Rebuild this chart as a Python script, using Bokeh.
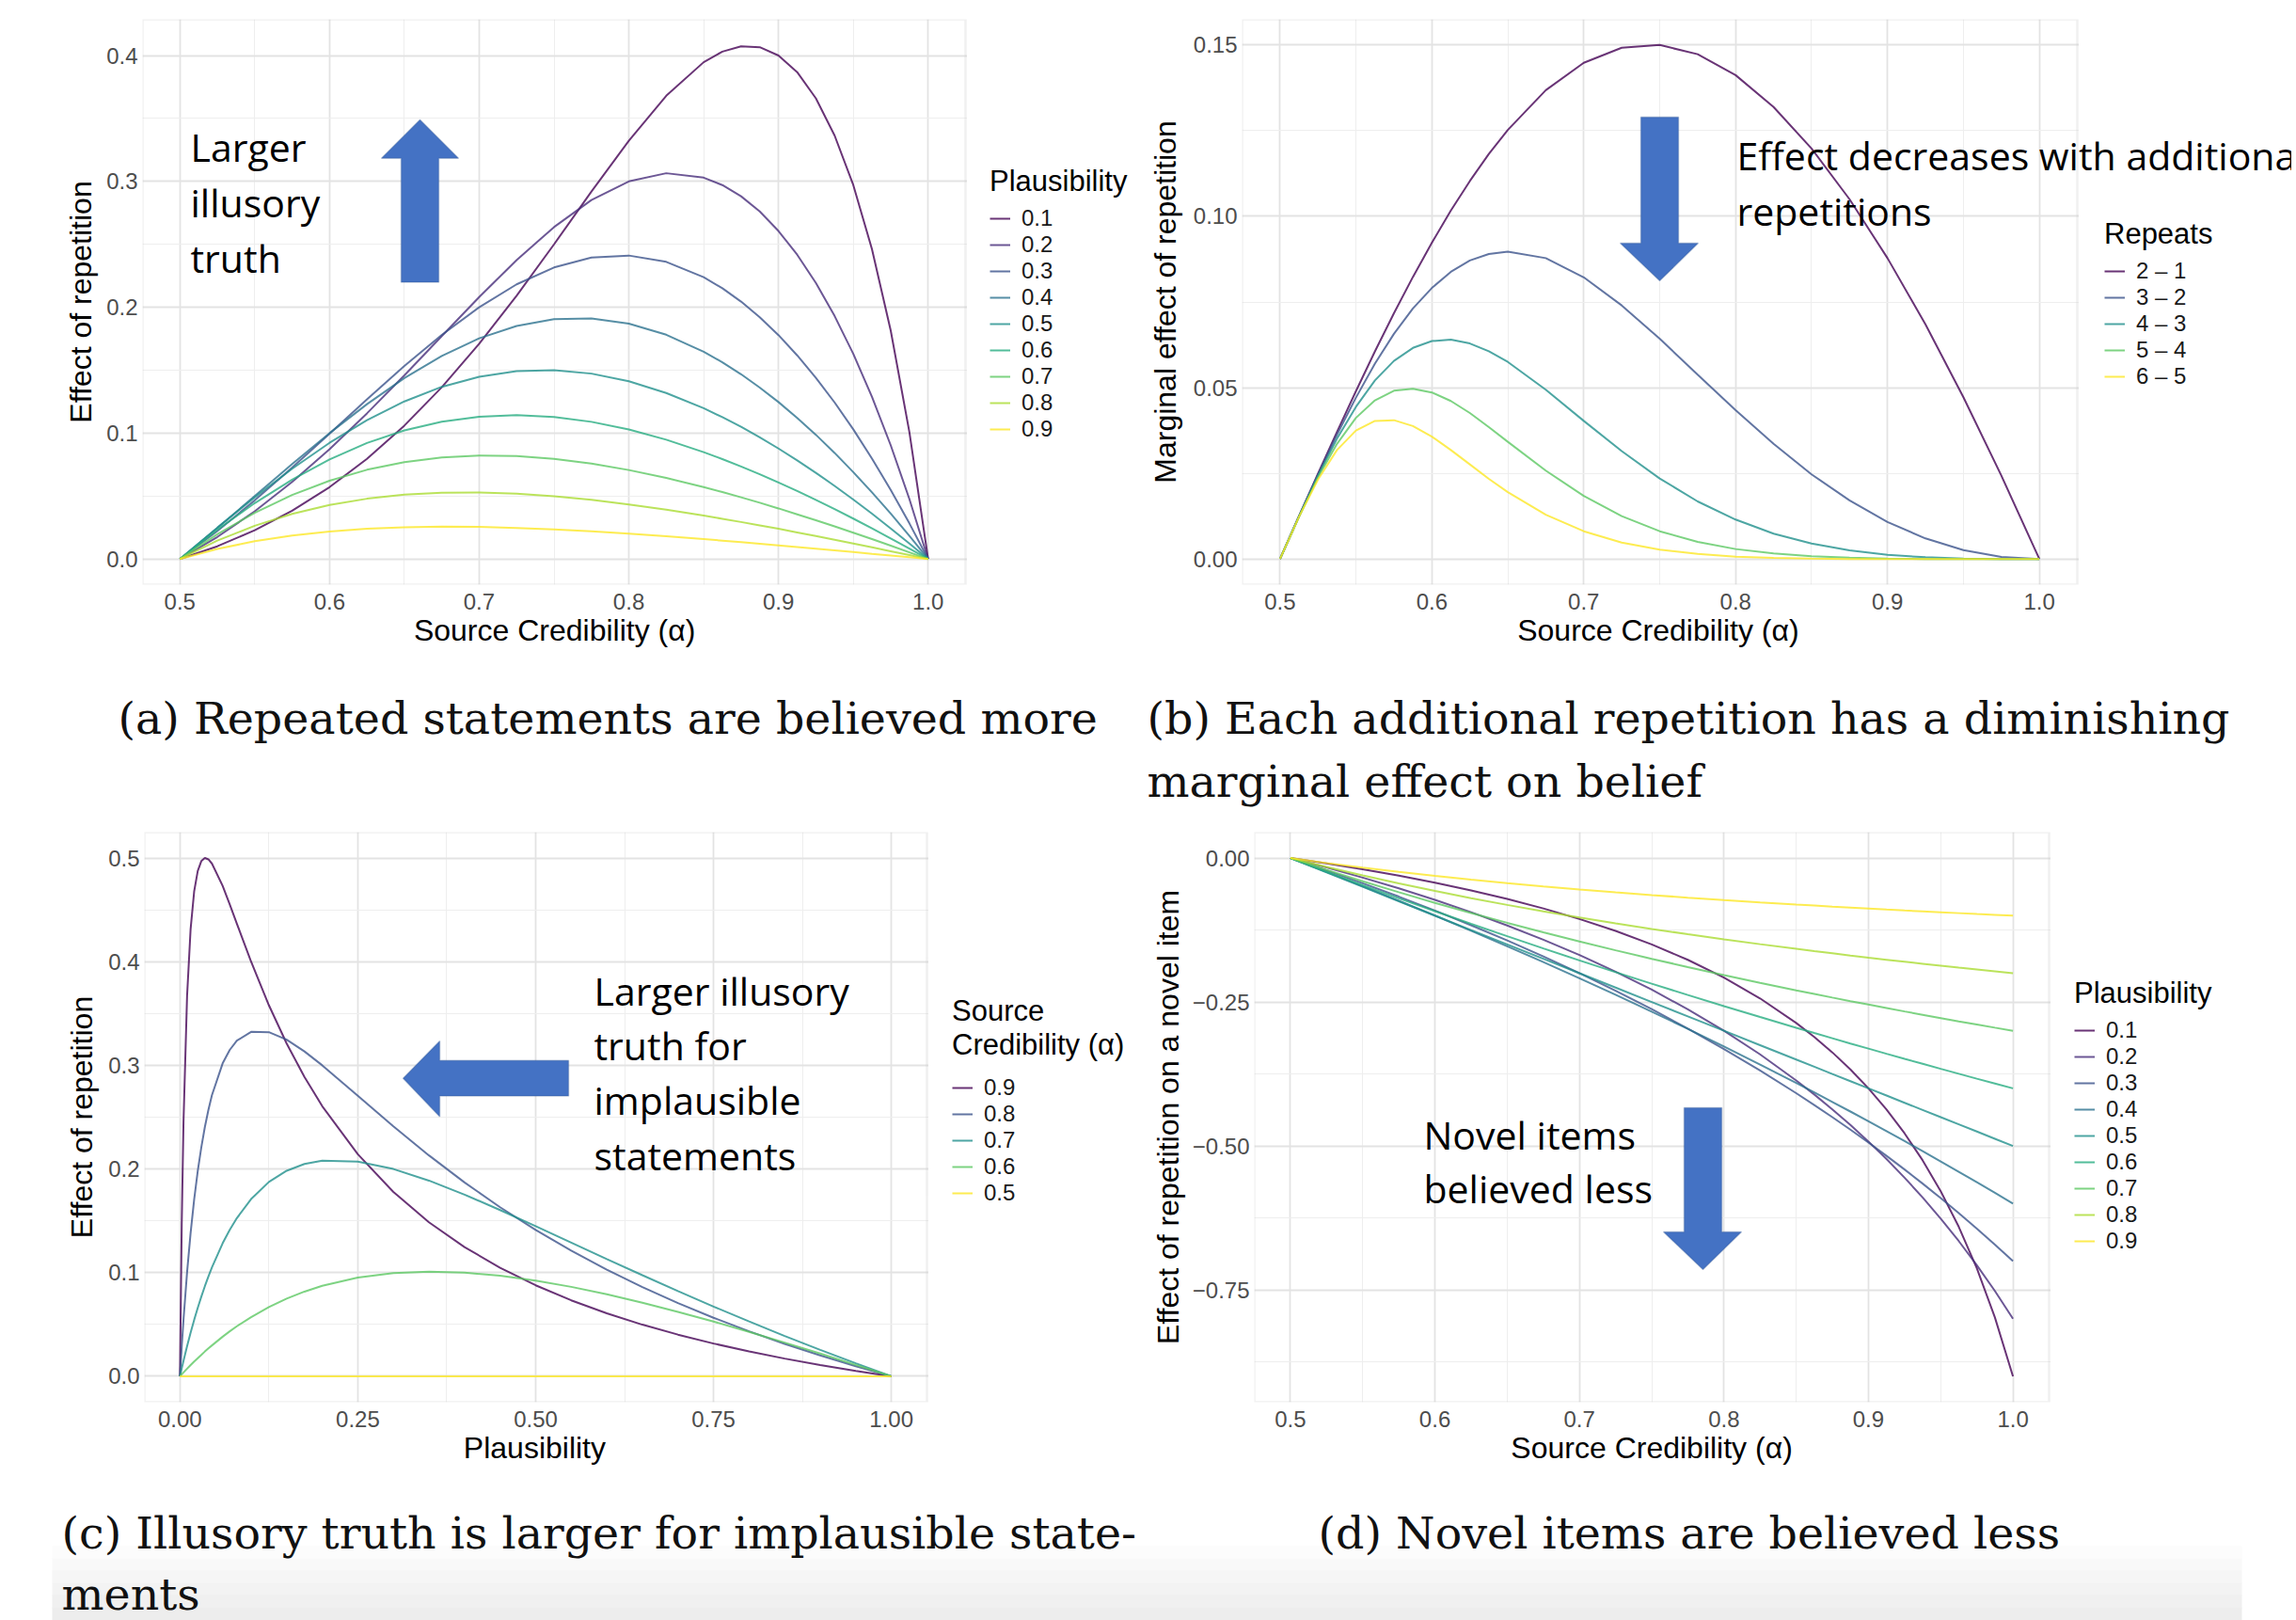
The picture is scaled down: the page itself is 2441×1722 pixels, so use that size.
from bokeh.plotting import figure
from bokeh.models import (Range1d, FixedTicker, Legend, LegendItem, Label,
                          PolyAnnotation, BoxAnnotation, PrintfTickFormatter,
                          CustomJSTickFormatter)
from bokeh.layouts import column, row
from bokeh.embed import file_html
from bokeh.resources import INLINE

# ---------------- data ----------------
# (a) effect of repetition vs source credibility, one series per plausibility
alpha_a = [0.5, 0.525, 0.55, 0.575, 0.6, 0.625, 0.65, 0.675, 0.7, 0.725, 0.75, 0.775, 0.8, 0.825,
           0.85, 0.8625, 0.875, 0.8875, 0.9, 0.9125, 0.925, 0.9375, 0.95, 0.9625, 0.975, 0.9875, 1.0]
plaus_labels = ["0.1", "0.2", "0.3", "0.4", "0.5", "0.6", "0.7", "0.8", "0.9"]
eff_p01 = [0, 0.0101, 0.0228, 0.0383, 0.0571, 0.0796, 0.1060, 0.1365, 0.1710, 0.2092, 0.2500, 0.2919,
           0.3323, 0.3680, 0.3947, 0.4031, 0.4073, 0.4066, 0.4000, 0.3868, 0.3660, 0.3365, 0.2971,
           0.2461, 0.1816, 0.1008, 0.0]
eff_p02 = [0, 0.0175, 0.0379, 0.0612, 0.0873, 0.1157, 0.1459, 0.1771, 0.2081, 0.2375, 0.2637, 0.2852,
           0.3000, 0.3065, 0.3030, 0.2971, 0.2882, 0.2761, 0.2606, 0.2418, 0.2193, 0.1931, 0.1630,
           0.1288, 0.0904, 0.0476, 0.0]
eff_p03 = [0, 0.0222, 0.0466, 0.0726, 0.0996, 0.1268, 0.1533, 0.1780, 0.2000, 0.2182, 0.2316, 0.2395,
           0.2411, 0.2361, 0.2239, 0.2151, 0.2045, 0.1921, 0.1779, 0.1618, 0.1440, 0.1244, 0.1030,
           0.0798, 0.0549, 0.0283, 0.0]
eff_p04 = [0, 0.0246, 0.0500, 0.0754, 0.1000, 0.1230, 0.1437, 0.1613, 0.1753, 0.1851, 0.1905, 0.1911,
           0.1870, 0.1782, 0.1647, 0.1563, 0.1468, 0.1362, 0.1247, 0.1121, 0.0987, 0.0843, 0.0690,
           0.0529, 0.0361, 0.0184, 0.0]
eff_p05 = [0, 0.0249, 0.0490, 0.0717, 0.0923, 0.1103, 0.1252, 0.1368, 0.1448, 0.1492, 0.1500, 0.1473,
           0.1412, 0.1319, 0.1198, 0.1127, 0.1050, 0.0967, 0.0878, 0.0784, 0.0685, 0.0581, 0.0472,
           0.0360, 0.0243, 0.0123, 0.0]
eff_p06 = [0, 0.0232, 0.0444, 0.0631, 0.0791, 0.0922, 0.1022, 0.1091, 0.1131, 0.1143, 0.1129, 0.1090,
           0.1029, 0.0948, 0.0849, 0.0794, 0.0735, 0.0673, 0.0608, 0.0540, 0.0469, 0.0396, 0.0321,
           0.0243, 0.0164, 0.0083, 0.0]
eff_p07 = [0, 0.0197, 0.0367, 0.0509, 0.0622, 0.0709, 0.0770, 0.0807, 0.0822, 0.0818, 0.0795, 0.0758,
           0.0707, 0.0644, 0.0571, 0.0532, 0.0490, 0.0447, 0.0402, 0.0355, 0.0308, 0.0259, 0.0209,
           0.0158, 0.0106, 0.0053, 0.0]
eff_p08 = [0, 0.0146, 0.0264, 0.0358, 0.0429, 0.0479, 0.0511, 0.0527, 0.0529, 0.0519, 0.0499, 0.0470,
           0.0434, 0.0392, 0.0345, 0.0320, 0.0294, 0.0267, 0.0240, 0.0211, 0.0182, 0.0153, 0.0123,
           0.0093, 0.0062, 0.0031, 0.0]
eff_p09 = [0, 0.0080, 0.0141, 0.0187, 0.0219, 0.0240, 0.0252, 0.0257, 0.0255, 0.0247, 0.0235, 0.0220,
           0.0201, 0.0181, 0.0158, 0.0146, 0.0134, 0.0121, 0.0108, 0.0095, 0.0082, 0.0069, 0.0055,
           0.0041, 0.0028, 0.0014, 0.0]

# (b) marginal effect of each additional repetition
alpha_b = [0.5, 0.5125, 0.525, 0.5375, 0.55, 0.5625, 0.575, 0.5875, 0.6, 0.6125, 0.625, 0.6375,
           0.65, 0.675, 0.7, 0.725, 0.75, 0.775, 0.8, 0.825, 0.85, 0.875, 0.9, 0.925, 0.95, 0.975, 1.0]
repeat_labels = ["2 \u2013 1", "3 \u2013 2", "4 \u2013 3", "5 \u2013 4", "6 \u2013 5"]
marg_21 = [0, 0.0125, 0.0249, 0.0371, 0.0490, 0.0606, 0.0717, 0.0823, 0.0923, 0.1017, 0.1103, 0.1182,
           0.1252, 0.1368, 0.1448, 0.1492, 0.1500, 0.1473, 0.1412, 0.1319, 0.1198, 0.1050, 0.0878,
           0.0685, 0.0472, 0.0243, 0.0]
marg_32 = [0, 0.0125, 0.0246, 0.0363, 0.0471, 0.0570, 0.0657, 0.0731, 0.0791, 0.0838, 0.0871, 0.0890,
           0.0897, 0.0878, 0.0822, 0.0740, 0.0643, 0.0538, 0.0434, 0.0336, 0.0247, 0.0171, 0.0108,
           0.0060, 0.0026, 0.0006, 0.0]
marg_43 = [0, 0.0124, 0.0243, 0.0351, 0.0444, 0.0521, 0.0578, 0.0616, 0.0636, 0.0640, 0.0629, 0.0606,
           0.0575, 0.0494, 0.0403, 0.0315, 0.0235, 0.0168, 0.0115, 0.0074, 0.0045, 0.0025, 0.0012,
           0.0005, 0.0001, 0.0, 0.0]
marg_54 = [0, 0.0123, 0.0238, 0.0336, 0.0412, 0.0463, 0.0491, 0.0497, 0.0486, 0.0461, 0.0426, 0.0385,
           0.0342, 0.0258, 0.0184, 0.0125, 0.0081, 0.0050, 0.0029, 0.0016, 0.0008, 0.0004, 0.0001,
           0.0, 0.0, 0.0, 0.0]
marg_65 = [0, 0.0123, 0.0232, 0.0318, 0.0375, 0.0403, 0.0405, 0.0388, 0.0357, 0.0318, 0.0276, 0.0234,
           0.0195, 0.0129, 0.0081, 0.0048, 0.0027, 0.0015, 0.0007, 0.0003, 0.0001, 0.0, 0.0,
           0.0, 0.0, 0.0, 0.0]

# (c) effect of repetition vs plausibility, one series per source credibility
plaus_c = [0, 0.0025, 0.005, 0.01, 0.015, 0.02, 0.025, 0.03, 0.035, 0.04, 0.045, 0.06, 0.07, 0.08,
           0.1, 0.125, 0.15, 0.175, 0.2, 0.25, 0.3, 0.35, 0.4, 0.45, 0.5, 0.55, 0.6, 0.65, 0.7,
           0.75, 0.8, 0.85, 0.9, 0.95, 1.0]
cred_labels = ["0.9", "0.8", "0.7", "0.6", "0.5"]
eff_a09 = [0, 0.1467, 0.2460, 0.3667, 0.4317, 0.4679, 0.4875, 0.4970, 0.5000, 0.4987, 0.4946, 0.4731,
           0.4552, 0.4367, 0.4000, 0.3580, 0.3210, 0.2888, 0.2606, 0.2143, 0.1779, 0.1486, 0.1247,
           0.1047, 0.0878, 0.0733, 0.0608, 0.0498, 0.0402, 0.0316, 0.0240, 0.0171, 0.0108, 0.0052, 0.0]
eff_a08 = [0, 0.0286, 0.0547, 0.1003, 0.1385, 0.1707, 0.1979, 0.2209, 0.2405, 0.2571, 0.2713, 0.3019,
           0.3149, 0.3238, 0.3323, 0.3320, 0.3247, 0.3134, 0.3000, 0.2707, 0.2411, 0.2131, 0.1870,
           0.1631, 0.1412, 0.1212, 0.1029, 0.0861, 0.0707, 0.0565, 0.0434, 0.0313, 0.0201, 0.0097, 0.0]
eff_a07 = [0, 0.0076, 0.0150, 0.0291, 0.0422, 0.0545, 0.0660, 0.0768, 0.0869, 0.0963, 0.1051, 0.1283,
           0.1413, 0.1526, 0.1710, 0.1875, 0.1983, 0.2049, 0.2081, 0.2072, 0.2000, 0.1888, 0.1753,
           0.1604, 0.1448, 0.1290, 0.1131, 0.0975, 0.0822, 0.0673, 0.0529, 0.0389, 0.0255, 0.0125, 0.0]
eff_a06 = [0, 0.0019, 0.0037, 0.0073, 0.0108, 0.0142, 0.0175, 0.0207, 0.0239, 0.0269, 0.0298, 0.0382,
           0.0434, 0.0483, 0.0571, 0.0668, 0.0749, 0.0817, 0.0873, 0.0952, 0.0996, 0.1010, 0.1000,
           0.0970, 0.0923, 0.0863, 0.0791, 0.0710, 0.0622, 0.0528, 0.0429, 0.0325, 0.0219, 0.0110, 0.0]
eff_a05 = [0, 0, 0, 0, 0, 0, 0, 0, 0, 0, 0, 0, 0, 0, 0, 0, 0, 0, 0, 0, 0, 0, 0, 0, 0, 0, 0, 0, 0,
           0, 0, 0, 0, 0, 0]

# (d) effect of repetition on a novel item
alpha_d = [0.5, 0.525, 0.55, 0.575, 0.6, 0.625, 0.65, 0.675, 0.7, 0.725, 0.75, 0.775, 0.8, 0.825,
           0.85, 0.8625, 0.875, 0.8875, 0.9, 0.9125, 0.925, 0.9375, 0.95, 0.9625, 0.975, 0.9875, 1.0]
nov_p01 = [0, -0.0094, -0.0196, -0.0307, -0.0429, -0.0563, -0.0711, -0.0875, -0.1059, -0.1266, -0.1500,
           -0.1768, -0.2077, -0.2438, -0.2864, -0.3107, -0.3375, -0.3671, -0.4000, -0.4368, -0.4781,
           -0.5250, -0.5786, -0.6404, -0.7125, -0.7977, -0.9000]
nov_p02 = [0, -0.0165, -0.0340, -0.0527, -0.0727, -0.0941, -0.1171, -0.1418, -0.1684, -0.1973, -0.2286,
           -0.2627, -0.3000, -0.3410, -0.3862, -0.4106, -0.4364, -0.4636, -0.4923, -0.5228, -0.5551,
           -0.5895, -0.6261, -0.6652, -0.7070, -0.7518, -0.8000]
nov_p03 = [0, -0.0214, -0.0438, -0.0670, -0.0913, -0.1167, -0.1432, -0.1709, -0.2000, -0.2305, -0.2625,
           -0.2962, -0.3316, -0.3689, -0.4083, -0.4289, -0.4500, -0.4717, -0.4941, -0.5172, -0.5409,
           -0.5654, -0.5906, -0.6167, -0.6435, -0.6713, -0.7000]
nov_p04 = [0, -0.0242, -0.0490, -0.0742, -0.1000, -0.1263, -0.1532, -0.1806, -0.2087, -0.2374, -0.2667,
           -0.2966, -0.3273, -0.3586, -0.3907, -0.4070, -0.4235, -0.4402, -0.4571, -0.4743, -0.4916,
           -0.5091, -0.5268, -0.5448, -0.5630, -0.5814, -0.6000]
nov_p05 = [0, -0.025, -0.05, -0.075, -0.1, -0.125, -0.15, -0.175, -0.2, -0.225, -0.25,
           -0.275, -0.3, -0.325, -0.35, -0.3625, -0.375, -0.3875, -0.4, -0.4125, -0.425,
           -0.4375, -0.45, -0.4625, -0.475, -0.4875, -0.5]
nov_p06 = [0, -0.0238, -0.0471, -0.0699, -0.0923, -0.1143, -0.1358, -0.1570, -0.1778, -0.1982, -0.2182,
           -0.2378, -0.2571, -0.2761, -0.2947, -0.3039, -0.3130, -0.3221, -0.3310, -0.3399, -0.3487,
           -0.3574, -0.3661, -0.3747, -0.3832, -0.3916, -0.4000]
nov_p07 = [0, -0.0206, -0.0404, -0.0594, -0.0778, -0.0955, -0.1125, -0.1289, -0.1448, -0.1602, -0.1750,
           -0.1893, -0.2032, -0.2167, -0.2297, -0.2360, -0.2423, -0.2485, -0.2545, -0.2605, -0.2664,
           -0.2722, -0.2779, -0.2836, -0.2891, -0.2946, -0.3000]
nov_p08 = [0, -0.0155, -0.0302, -0.0440, -0.0571, -0.0696, -0.0814, -0.0926, -0.1032, -0.1134, -0.1231,
           -0.1323, -0.1412, -0.1496, -0.1577, -0.1617, -0.1655, -0.1693, -0.1730, -0.1766, -0.1801,
           -0.1836, -0.1870, -0.1904, -0.1936, -0.1968, -0.2000]
nov_p09 = [0, -0.0087, -0.0167, -0.0241, -0.0310, -0.0375, -0.0435, -0.0492, -0.0545, -0.0596, -0.0643,
           -0.0688, -0.0730, -0.0770, -0.0808, -0.0826, -0.0844, -0.0861, -0.0878, -0.0895, -0.0911,
           -0.0926, -0.0942, -0.0957, -0.0972, -0.0986, -0.1000]

# tick positions
ticks_cred = [0.5, 0.6, 0.7, 0.8, 0.9, 1.0]
minor_cred = [0.55, 0.65, 0.75, 0.85, 0.95]
ticks_a_y = [0.0, 0.1, 0.2, 0.3, 0.4]
minor_a_y = [0.05, 0.15, 0.25, 0.35]
ticks_b_y = [0.0, 0.05, 0.10, 0.15]
minor_b_y = [0.025, 0.075, 0.125]
ticks_c_x = [0.0, 0.25, 0.5, 0.75, 1.0]
minor_c_x = [0.125, 0.375, 0.625, 0.875]
ticks_c_y = [0.0, 0.1, 0.2, 0.3, 0.4, 0.5]
minor_c_y = [0.05, 0.15, 0.25, 0.35, 0.45]
ticks_d_y = [-0.75, -0.5, -0.25, 0.0]
minor_d_y = [-0.875, -0.625, -0.375, -0.125]

# ---------------- styling ----------------
SANS = "Liberation Sans"
ANN_FONT = "Open Sans"
CAP_FONT = "DejaVu Serif"
VIR9 = ["#440154", "#472D7B", "#3B528B", "#2C728E", "#21908C", "#27AD81", "#5DC863", "#AADC32", "#FDE725"]
VIR5 = ["#440154", "#3B528B", "#21908C", "#5DC863", "#FDE725"]
ARROW_FILL = "#4472C4"
ARROW_LINE = "#2F528F"
LW = 2.0
LA = 0.8
TITLE_H = 35
TITLE_SO = 7
ITEM_H = 28
AXIS_TITLE_PX = 32
NBSP_EM = 0.2778   # advance width of a no-break space in Liberation Sans

# page geometry of each panel (pixels, page origin top-left)
# X0/Y0/W/H: figure box; L/T/R/B: plotting panel; the frame runs on to the figure's right edge
GA = dict(X0=0, Y0=0, W=1214, H=700, L=151, T=19, R=1026, B=621, xr=(0.475, 1.025), yr=(-0.0204, 0.4288))
GB = dict(X0=1214, Y0=0, W=1222, H=700, L=1320, T=20, R=2208, B=621, xr=(0.475, 1.025), yr=(-0.0075, 0.1575))
GC = dict(X0=0, Y0=870, W=1214, H=700, L=153, T=883, R=985, B=1492, xr=(-0.05, 1.05), yr=(-0.025, 0.525))
GD = dict(X0=1214, Y0=870, W=1222, H=700, L=1333, T=884, R=2178, B=1490, xr=(0.475, 1.025), yr=(-0.945, 0.045))


def xscale(g):
    return (g["xr"][1] - g["xr"][0]) / (g["R"] - g["L"])


def dx(g, X):
    return g["xr"][0] + (X - g["L"]) * xscale(g)


def dy(g, Y):
    return g["yr"][1] - (Y - g["T"]) / (g["B"] - g["T"]) * (g["yr"][1] - g["yr"][0])


def make_panel(g):
    x_end = dx(g, g["X0"] + g["W"])
    p = figure(width=g["W"], height=g["H"], x_range=Range1d(g["xr"][0], x_end),
               y_range=Range1d(*g["yr"]),
               output_backend="svg", toolbar_location=None, title=None,
               min_border_left=g["L"] - g["X0"], min_border_right=0,
               min_border_top=g["T"] - g["Y0"], min_border_bottom=g["Y0"] + g["H"] - g["B"])
    p.background_fill_color = "white"
    p.border_fill_color = "white"
    p.outline_line_color = None
    return p


def dress_panel(p, g):
    x0, x1 = g["xr"]
    y0, y1 = g["yr"]
    x_end = dx(g, g["X0"] + g["W"])
    # blank out the legend area to the right of the panel
    p.add_layout(BoxAnnotation(left=x1 + 1.5 * xscale(g), right=x_end, bottom=y0, top=y1,
                               fill_color="white", fill_alpha=1.0, line_color=None, level="underlay"))
    # panel border
    p.add_layout(BoxAnnotation(left=x0, right=x1, bottom=y0, top=y1, fill_alpha=0.0,
                               line_color="#cccccc", line_width=2.5, level="underlay"))


def centred_title(g, text):
    # the frame runs past the panel, so pad the title on the right to centre it on the panel
    shift = (g["X0"] + g["W"] - g["R"]) / 2.0
    n = int(round(2 * shift / (NBSP_EM * AXIS_TITLE_PX)))
    return text + "\u00a0" * n


def style_axes(p, g, xt, xm, yt, ym, xfmt, yfmt, xlab, ylab, yso):
    for ax, t, m, fmt, lab, so, lso in ((p.xaxis[0], xt, xm, xfmt, centred_title(g, xlab), 1, 9),
                                        (p.yaxis[0], yt, ym, yfmt, ylab, yso, 5)):
        ax.ticker = FixedTicker(ticks=t, minor_ticks=m)
        ax.formatter = fmt
        ax.axis_label = lab
        ax.axis_label_text_font = SANS
        ax.axis_label_text_font_size = "%dpx" % AXIS_TITLE_PX
        ax.axis_label_text_font_style = "normal"
        ax.axis_label_text_color = "black"
        ax.axis_label_standoff = so
        ax.major_label_text_font = SANS
        ax.major_label_text_font_size = "24px"
        ax.major_label_text_color = "#4d4d4d"
        ax.major_label_standoff = lso
        ax.axis_line_color = None
        ax.major_tick_line_color = None
        ax.minor_tick_line_color = None
        ax.major_tick_out = 0
        ax.major_tick_in = 0
        ax.minor_tick_out = 0
        ax.minor_tick_in = 0
    for grid, t, m in ((p.xgrid[0], xt, xm), (p.ygrid[0], yt, ym)):
        grid.ticker = FixedTicker(ticks=t, minor_ticks=m)
        grid.grid_line_color = "#e3e3e3"
        grid.grid_line_width = 1.8
        grid.minor_grid_line_color = "#eeeeee"
        grid.minor_grid_line_width = 1.0


def add_legend(p, g, rends, labels, title, left, top, title_h=TITLE_H, title_so=TITLE_SO):
    n = len(labels)
    H = title_h + title_so + n * ITEM_H
    loc = (left - g["L"], g["B"] - top - H)
    leg = Legend(items=[LegendItem(label=l, renderers=[r]) for l, r in zip(labels, rends)],
                 location=loc, orientation="vertical",
                 label_text_font=SANS, label_text_font_size="24px", label_text_color="#1a1a1a",
                 glyph_width=22, glyph_height=ITEM_H, label_height=ITEM_H, label_standoff=12,
                 spacing=0, padding=0, margin=0, border_line_color=None, background_fill_alpha=0)
    leg.title = title
    leg.title_text_font = SANS
    leg.title_text_font_size = "31px"
    leg.title_text_font_style = "normal"
    leg.title_text_color = "black"
    leg.title_standoff = title_so
    p.add_layout(leg)


def arrow(p, g, pts):
    p.add_layout(PolyAnnotation(xs=[dx(g, X) for X, Y in pts], ys=[dy(g, Y) for X, Y in pts],
                                fill_color=ARROW_FILL, fill_alpha=1.0,
                                line_color=ARROW_LINE, line_width=1.5))


def txt(p, g, X, Y, s, font=ANN_FONT, size="41px", color="black"):
    p.add_layout(Label(x=dx(g, X), y=dy(g, Y), text=s, text_font=font, text_font_size=size,
                       text_baseline="alphabetic", text_align="left", text_color=color))


# ---------------- (a) ----------------
fa = make_panel(GA)
dress_panel(fa, GA)
style_axes(fa, GA, ticks_cred, minor_cred, ticks_a_y, minor_a_y,
           PrintfTickFormatter(format="%.1f"), PrintfTickFormatter(format="%.1f"),
           "Source Credibility (\u03b1)", "Effect of repetition", 6)
series_a = [eff_p01, eff_p02, eff_p03, eff_p04, eff_p05, eff_p06, eff_p07, eff_p08, eff_p09]
rend_a = [fa.line(alpha_a, s, line_color=c, line_width=LW, line_alpha=LA) for s, c in zip(series_a, VIR9)]
add_legend(fa, GA, rend_a, plaus_labels, "Plausibility", 1052, 176)
arrow(fa, GA, [(446, 126), (487, 167), (466, 167), (466, 299), (426, 299), (426, 167), (405, 167)])
for s, yb in (("Larger", 155), ("illusory", 214), ("truth", 273)):
    txt(fa, GA, 202, yb, s)

# ---------------- (b) ----------------
fb = make_panel(GB)
dress_panel(fb, GB)
style_axes(fb, GB, ticks_cred, minor_cred, ticks_b_y, minor_b_y,
           PrintfTickFormatter(format="%.1f"), PrintfTickFormatter(format="%.2f"),
           "Source Credibility (\u03b1)", "Marginal effect of repetition", 9)
series_b = [marg_21, marg_32, marg_43, marg_54, marg_65]
rend_b = [fb.line(alpha_b, s, line_color=c, line_width=LW, line_alpha=LA) for s, c in zip(series_b, VIR5)]
add_legend(fb, GB, rend_b, repeat_labels, "Repeats", 2237, 232)
arrow(fb, GB, [(1764, 298), (1805, 258), (1784, 258), (1784, 124), (1744, 124), (1744, 258), (1722, 258)])
txt(fb, GB, 1846, 164, "Effect decreases with additional")
txt(fb, GB, 1846, 223, "repetitions")

# ---------------- (c) ----------------
fc = make_panel(GC)
dress_panel(fc, GC)
style_axes(fc, GC, ticks_c_x, minor_c_x, ticks_c_y, minor_c_y,
           PrintfTickFormatter(format="%.2f"), PrintfTickFormatter(format="%.1f"),
           "Plausibility", "Effect of repetition", 7)
series_c = [eff_a09, eff_a08, eff_a07, eff_a06, eff_a05]
rend_c = [fc.line(plaus_c, s, line_color=c, line_width=LW, line_alpha=LA) for s, c in zip(series_c, VIR5)]
add_legend(fc, GC, rend_c, cred_labels, "Source\nCredibility (\u03b1)", 1012, 1061, title_h=70, title_so=13)
arrow(fc, GC, [(428, 1146), (467, 1106), (467, 1127), (604, 1127), (604, 1165), (467, 1165), (467, 1187)])
for s, yb in (("Larger illusory", 1052), ("truth for", 1111), ("implausible", 1169), ("statements", 1228)):
    txt(fc, GC, 631, yb, s)

# ---------------- (d) ----------------
fd = make_panel(GD)
dress_panel(fd, GD)
minus_fmt = CustomJSTickFormatter(code="return tick.toFixed(2).replace('-', '\u2212');")
style_axes(fd, GD, ticks_cred, minor_cred, ticks_d_y, minor_d_y,
           PrintfTickFormatter(format="%.1f"), minus_fmt,
           "Source Credibility (\u03b1)", "Effect of repetition on a novel item", 5)
series_d = [nov_p01, nov_p02, nov_p03, nov_p04, nov_p05, nov_p06, nov_p07, nov_p08, nov_p09]
rend_d = [fd.line(alpha_d, s, line_color=c, line_width=LW, line_alpha=LA) for s, c in zip(series_d, VIR9)]
add_legend(fd, GD, rend_d, plaus_labels, "Plausibility", 2205, 1039)
arrow(fd, GD, [(1810, 1349), (1851, 1309), (1830, 1309), (1830, 1177), (1790, 1177), (1790, 1309), (1768, 1309)])
txt(fd, GD, 1513, 1205, "Novel items")
txt(fd, GD, 1513, 1262, "believed less")


# ---------------- captions ----------------
def canvas(W, H):
    p = figure(width=W, height=H, x_range=Range1d(0, W), y_range=Range1d(H, 0),
               output_backend="svg", toolbar_location=None, title=None, min_border=0,
               x_axis_location=None, y_axis_location=None)
    p.xgrid.visible = False
    p.ygrid.visible = False
    p.outline_line_color = None
    p.background_fill_color = "white"
    p.border_fill_color = "white"
    return p


def cap(p, x, y, s):
    p.add_layout(Label(x=x, y=y, text=s, text_font=CAP_FONT, text_font_size="47.5px",
                       text_baseline="alphabetic", text_align="left", text_color="#111111"))


cap_ab = canvas(2436, 170)
cap(cap_ab, 125, 63, "(a) Repeated statements are believed more")
cap(cap_ab, 1219, 63, "(b) Each additional repetition has a diminishing")
cap(cap_ab, 1219, 130, "marginal effect on belief")

cap_cd = canvas(2436, 152)
band_cols = ["#fcfcfc", "#f9f9f9", "#f6f6f6", "#f3f3f3", "#f0f0f0", "#ededed"]
for i, col in enumerate(band_cols):
    cap_cd.add_layout(BoxAnnotation(left=55, right=2383, top=73 + 13 * i, bottom=73 + 13 * (i + 1) + 1,
                                    fill_color=col, fill_alpha=1.0, line_color=None, level="underlay"))
cap(cap_cd, 65, 59, "(c) Illusory truth is larger for implausible state-")
cap(cap_cd, 65, 124, "ments")
cap(cap_cd, 1401, 59, "(d) Novel items are believed less")

layout = column(row(fa, fb), cap_ab, row(fc, fd), cap_cd)
open("out.html", "w").write(file_html(layout, INLINE))
